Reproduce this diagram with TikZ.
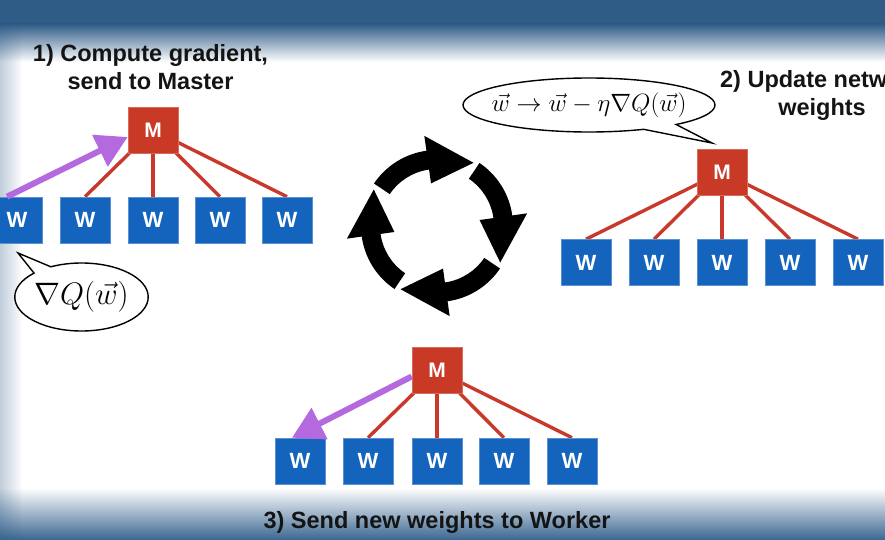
\RequirePackage{fix-cm}
\documentclass[tikz,border=0pt]{standalone}
\usepackage[no-math]{fontspec}
\setmainfont{Liberation Sans}
\usetikzlibrary{arrows.meta,shapes.callouts,fadings,calc}

\definecolor{slideblue}{HTML}{2F5B87}
\definecolor{slidebluelow}{HTML}{3A6690}
\definecolor{masterred}{HTML}{C83A26}
\definecolor{workerblue}{HTML}{1464BE}
\definecolor{linkred}{HTML}{C9392B}
\definecolor{pushpurple}{HTML}{B469DE}

\pgfdeclarelayer{back}
\pgfdeclarelayer{links}
\pgfsetlayers{back,links,main}

\tikzset{
  x=1pt, y=1pt,
  wbox/.style={fill=workerblue, draw=workerblue!70!white, line width=0.6pt,
    minimum width=50pt, minimum height=46pt, inner sep=0pt,
    text=white, font=\fontsize{22}{22}\selectfont\bfseries},
  mbox/.style={fill=masterred, draw=masterred!75!white, line width=0.6pt,
    minimum width=50pt, minimum height=46pt, inner sep=0pt,
    text=white, font=\fontsize{21}{21}\selectfont\bfseries},
  link/.style={draw=linkred, line width=3.4pt},
  push/.style={draw=pushpurple, line width=6pt,
    -{Triangle[length=31pt,width=34pt]}},
  bubble/.style={ellipse callout, draw=black, line width=1.4pt, fill=white,
    inner sep=0pt, callout pointer arc=18},
  caption/.style={font=\fontsize{23.5}{28}\selectfont\bfseries,
    text=black!92, align=center, inner sep=0pt},
  cyclearrow/.style={fill=black}
}

\begin{document}
\begin{tikzpicture}
\useasboundingbox (0,0) rectangle (885,-540);
\clip (0,0) rectangle (885,-540);

% slide background: white with blue bands top and bottom, pale left edge
\begin{pgfonlayer}{back}
  \fill[white] (0,0) rectangle (885,-540);
  \fill[slideblue] (0,0) rectangle (885,-24);
  \shade[top color=slideblue, bottom color=white] (0,-24) rectangle (885,-62);
  \shade[top color=white, bottom color=slidebluelow] (0,-488) rectangle (885,-540);
  \fill[slideblue, path fading=east, fill opacity=0.3] (0,0) rectangle (22,-540);
\end{pgfonlayer}

% ---------- step 1: workers send gradients to the master ----------
\node[mbox] (lm) at (153,-130) {M};
\foreach \i/\x in {1/17,2/85,3/153,4/220,5/287}
  \node[wbox] (lw\i) at (\x,-220) {W};
\begin{pgfonlayer}{links}
  \foreach \i in {2,...,5} \draw[link] (lm.center) -- (lw\i.north);
\end{pgfonlayer}
\coordinate (lsrc) at ($(lw1.north)+(-10,0)$);
\coordinate (ldst) at ($(lm.west)+(0,-7)$);
\draw[push] (lsrc) -- (ldst);

\node[caption, anchor=north] (cap1) at (150.5,-44.5)
  {1) Compute gradient,\\send to Master};

\node[bubble, minimum width=133pt, minimum height=68pt,
  callout absolute pointer={(18,-253)},
  font=\fontsize{31}{34}\selectfont] (grad) at (81.5,-297)
  {$\nabla Q(\vec{w})$};

% ---------- step 2: master updates the weights ----------
\node[mbox] (rm) at (722,-172) {M};
\foreach \i/\x in {1/586,2/654,3/722,4/790,5/858}
  \node[wbox] (rw\i) at (\x,-262.5) {W};
\begin{pgfonlayer}{links}
  \foreach \i in {1,...,5} \draw[link] (rm.center) -- (rw\i.north);
\end{pgfonlayer}

\node[caption, anchor=north] (cap2) at (822,-70.5)
  {2) Update network\\weights};

\node[bubble, inner xsep=-45pt, minimum width=252pt, minimum height=54pt,
  callout absolute pointer={(712,-143)},
  font=\fontsize{25}{30}\selectfont] (upd) at (589,-105)
  {$\vec{w}\to\vec{w}-\eta\nabla Q(\vec{w})$};

% ---------- step 3: master sends new weights back ----------
\node[mbox] (bm) at (437,-370.5) {M};
\foreach \i/\x in {1/300,2/368,3/437,4/504,5/572}
  \node[wbox] (bw\i) at (\x,-461) {W};
\begin{pgfonlayer}{links}
  \foreach \i in {2,...,5} \draw[link] (bm.center) -- (bw\i.north);
\end{pgfonlayer}
\coordinate (bsrc) at ($(bm.west)+(0,-6)$);
\coordinate (bdst) at ($(bw1.north)+(-8,0)$);
\draw[push] (bsrc) -- (bdst);

\node[caption, anchor=base] (cap3) at (437,-528)
  {3) Send new weights to Worker};

% ---------- cycle of four curved arrows ----------
\coordinate (hub) at (437,-226);
\foreach \r in {0,90,180,270}{
  \begin{scope}[shift={(hub)}, rotate=-\r]
    \fill[cyclearrow] (146:76) arc[start angle=146, end angle=98, radius=76]
      -- (98:91) -- (60:73) -- (98:43) -- (98:57)
      arc[start angle=98, end angle=146, radius=57] -- cycle;
  \end{scope}
}
\end{tikzpicture}
\end{document}
